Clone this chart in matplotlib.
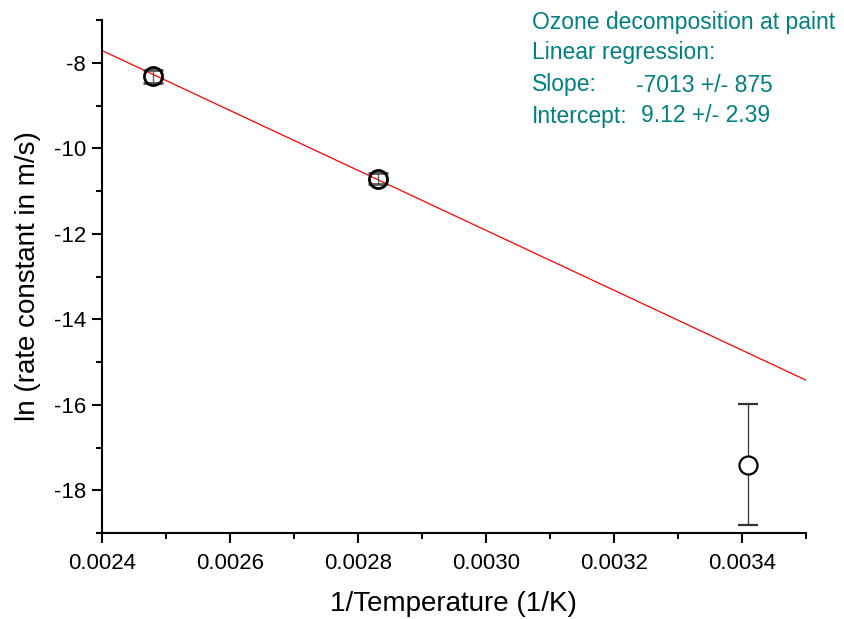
import matplotlib
matplotlib.use("Agg")
import matplotlib.pyplot as plt
from matplotlib.ticker import MultipleLocator, FuncFormatter

plt.rcParams['font.family'] = ['Liberation Sans', 'DejaVu Sans']
plt.rcParams['axes.unicode_minus'] = False

inv_T = [0.00248, 0.002832, 0.003410]
ln_k = [-8.32, -10.71, -17.40]
ln_k_err = [0.15, 0.13, 1.42]

slope = -7013
intercept = 9.12
fit_x = [0.0024, 0.0035]

fig = plt.figure(figsize=(8.44, 6.19), dpi=100)
ax = fig.add_axes([101.7/844, 1 - 533/619, (806 - 101.7)/844, (533 - 20)/619])

fy = [intercept + slope * x for x in fit_x]
ax.plot(fit_x, fy, color='red', lw=0.9, zorder=2)
# first two points: open markers (line shows through)
ax.errorbar(inv_T[:2], ln_k[:2], yerr=ln_k_err[:2], fmt='o', mfc='none', mec='black', mew=2.0,
            ms=13, ecolor='#555555', elinewidth=0.9, capsize=7.5, capthick=0.9, zorder=3)
# last point: white-filled marker over its bar
ax.errorbar(inv_T[2:], ln_k[2:], yerr=ln_k_err[2:], fmt='o', mfc='white', mec='black', mew=1.6,
            ms=13, ecolor='#333333', elinewidth=0.9, capsize=7.5, capthick=0.9, zorder=3)

ax.set_xlim(0.0024, 0.0035)
ax.set_ylim(-19, -7)
ax.xaxis.set_major_locator(MultipleLocator(0.0002))
ax.xaxis.set_minor_locator(MultipleLocator(0.0001))
ax.xaxis.set_major_formatter(FuncFormatter(lambda v, p: f'{v:.4f}'))
ax.yaxis.set_major_locator(MultipleLocator(2))
ax.yaxis.set_minor_locator(MultipleLocator(1))
ax.yaxis.set_major_formatter(FuncFormatter(lambda v, p: f'{v:.0f}'))

for s in ['top', 'right']:
    ax.spines[s].set_visible(False)
for s in ['left', 'bottom']:
    ax.spines[s].set_linewidth(1.5)
ax.tick_params(which='major', direction='out', length=7.2, width=1.5, labelsize=16)
ax.tick_params(axis='x', which='major', pad=7.5)
ax.tick_params(axis='y', which='major', pad=4)
ax.tick_params(which='minor', direction='out', length=4.3, width=1.5)

ax.set_xlabel('1/Temperature (1/K)', fontsize=20, labelpad=12)
ax.set_ylabel('ln (rate constant in m/s)', fontsize=20, labelpad=9)

teal = '#008080'
fs = 16.5
fig.text(532/844, 1 - 22/619, 'Ozone decomposition at paint', color=teal, fontsize=fs, va='center')
fig.text(532/844, 1 - 53/619, 'Linear regression:', color=teal, fontsize=fs, va='center')
fig.text(532/844, 1 - 85/619, 'Slope:', color=teal, fontsize=fs, va='center')
fig.text(636/844, 1 - 85/619, '-7013 +/- 875', color=teal, fontsize=fs, va='center')
fig.text(532/844, 1 - 116/619, 'Intercept:', color=teal, fontsize=fs, va='center')
fig.text(641/844, 1 - 116/619, '9.12 +/- 2.39', color=teal, fontsize=fs, va='center')

fig.savefig('out.png', dpi=100)
